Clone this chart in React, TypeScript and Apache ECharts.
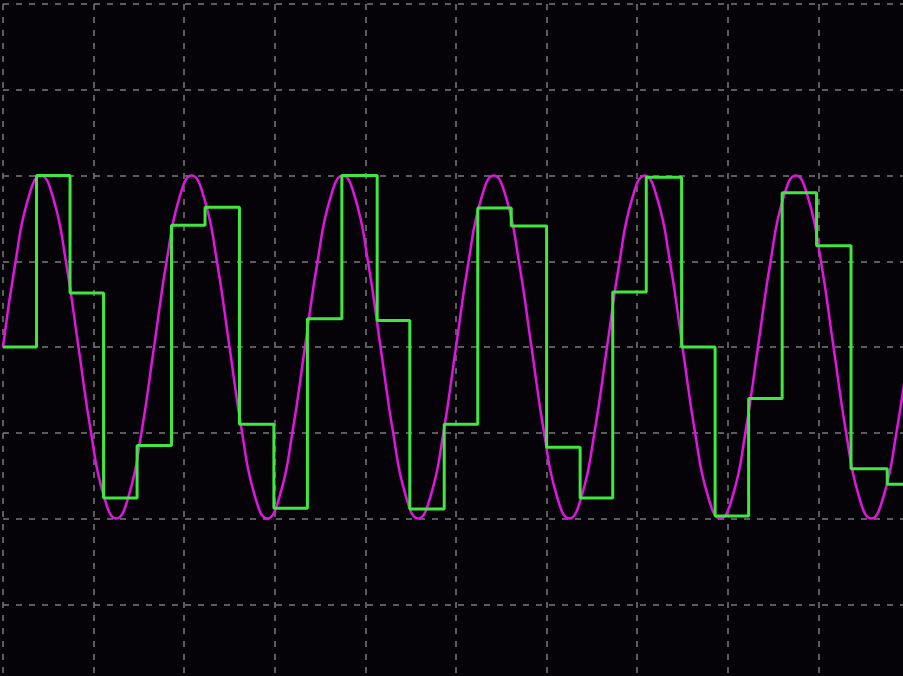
import React, { useEffect, useRef } from "react";
import * as echarts from "echarts";

// Time axis in screen divisions (10 across), voltage in divisions (8 tall, centred on 0)
const sineTimes = [
  0, 0.139, 0.278, 0.417, 0.556, 0.694, 0.833, 0.972, 1.111, 1.25, 1.389, 1.528,
  1.667, 1.806, 1.944, 2.083, 2.222, 2.361, 2.5, 2.639, 2.778, 2.917, 3.056, 3.194,
  3.333, 3.472, 3.611, 3.75, 3.889, 4.028, 4.167, 4.306, 4.444, 4.583, 4.722, 4.861,
  5, 5.139, 5.278, 5.417, 5.556, 5.694, 5.833, 5.972, 6.111, 6.25, 6.389, 6.528,
  6.667, 6.806, 6.944, 7.083, 7.222, 7.361, 7.5, 7.639, 7.778, 7.917, 8.056, 8.194,
  8.333, 8.472, 8.611, 8.75, 8.889, 9.028, 9.167, 9.306, 9.444, 9.583, 9.722, 9.861,
  10,
];
const sineValues = [
  0, 1, 1.73, 2, 1.73, 1, 0, -1, -1.73, -2, -1.73, -1,
  0, 1, 1.73, 2, 1.73, 1, 0, -1, -1.73, -2, -1.73, -1,
  0, 1, 1.73, 2, 1.73, 1, 0, -1, -1.73, -2, -1.73, -1,
  0, 1, 1.73, 2, 1.73, 1, 0, -1, -1.73, -2, -1.73, -1,
  0, 1, 1.73, 2, 1.73, 1, 0, -1, -1.73, -2, -1.73, -1,
  0, 1, 1.73, 2, 1.73, 1, 0, -1, -1.73, -2, -1.73, -1,
  0,
];

// Sample-and-hold output: time of each sample and the level held after it
const holdTimes = [
  0, 0.37, 0.74, 1.11, 1.48, 1.86, 2.23, 2.61, 2.99, 3.36, 3.74, 4.13, 4.49, 4.87,
  5.24, 5.61, 6.0, 6.37, 6.73, 7.1, 7.49, 7.86, 8.23, 8.6, 8.98, 9.36, 9.76, 10,
];
const holdLevels = [
  0, 2, 0.63, -1.76, -1.15, 1.42, 1.63, -0.9, -1.88, 0.33, 2, 0.31, -1.89, -0.9,
  1.62, 1.41, -1.17, -1.76, 0.64, 1.98, 0, -1.97, -0.6, 1.8, 1.18, -1.42, -1.6, -1.6,
];

export default function App() {
  const ref = useRef<HTMLDivElement>(null);
  useEffect(() => {
    document.body.style.margin = "0";
    const chart = echarts.init(ref.current!, null, { renderer: "svg" });
    const grid = { color: "#7a7a7a", width: 1.5, type: [6, 7] as number[] };
    chart.setOption({
      animation: false,
      backgroundColor: "#050308",
      grid: { left: 3, top: 4, width: 906, height: 686 },
      xAxis: {
        type: "value",
        min: 0,
        max: 10,
        interval: 1,
        axisLine: { show: false },
        axisTick: { show: false },
        axisLabel: { show: false },
        splitLine: { show: true, lineStyle: grid },
      },
      yAxis: {
        type: "value",
        min: -4,
        max: 4,
        interval: 1,
        axisLine: { show: false },
        axisTick: { show: false },
        axisLabel: { show: false },
        splitLine: { show: true, lineStyle: grid },
      },
      series: [
        {
          name: "Input",
          type: "line",
          data: sineTimes.map((t, i) => [t, sineValues[i]]),
          smooth: 0.5,
          showSymbol: false,
          lineStyle: { color: "#e214e2", width: 2.5 },
          z: 2,
        },
        {
          name: "Sample & hold",
          type: "line",
          step: "end",
          data: holdTimes.map((t, i) => [t, holdLevels[i]]),
          showSymbol: false,
          lineStyle: { color: "#3ee83e", width: 3 },
          z: 3,
        },
      ],
    });
    return () => chart.dispose();
  }, []);
  return (
    <div
      style={{
        position: "fixed",
        left: 0,
        top: 0,
        width: 903,
        height: 676,
        overflow: "hidden",
        background: "#050308",
      }}
    >
      <div ref={ref} style={{ width: 916, height: 698 }} />
    </div>
  );
}
